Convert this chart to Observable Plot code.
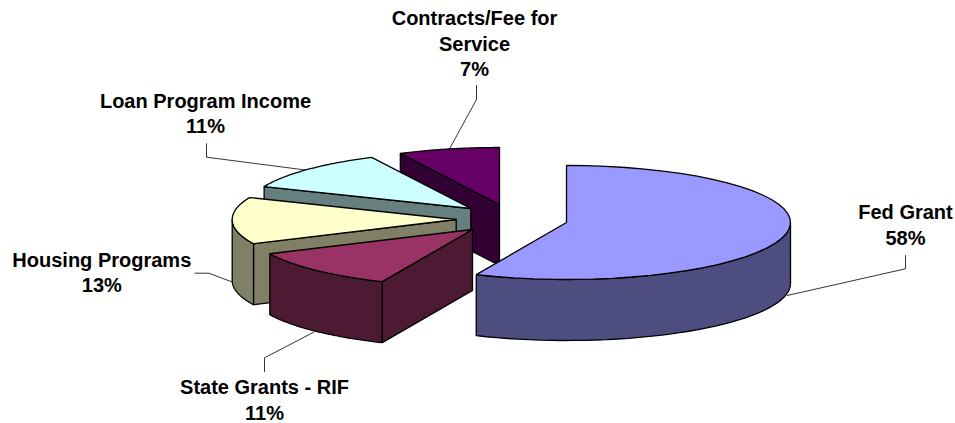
<!DOCTYPE html>
<html>
<head>
<meta charset="utf-8">
<style>html,body{margin:0;padding:0;background:#fff}svg{display:block}</style>
<script src="https://cdn.jsdelivr.net/npm/d3@7"></script>
<script src="https://cdn.jsdelivr.net/npm/@observablehq/plot@0.6"></script>
</head>
<body>
<div id="chart"></div>
<script>
// Data, clockwise from twelve o'clock
const categories = ["Fed Grant", "State Grants - RIF", "Housing Programs", "Loan Program Income", "Contracts/Fee for\nService"];
const percentLabels = ["58%", "11%", "13%", "11%", "7%"];
// Shares as drawn on the picture (perspective makes them differ a little from the printed labels)
const drawnShares = [56.6, 11.4, 13.3, 11.4, 7.3];
const topColors = ["#9999FF", "#993366", "#FFFFCC", "#CCFFFF", "#660066"];
const sideColors = ["#4D4D80", "#4D1A33", "#808066", "#668080", "#330033"];

// Layout of the exploded pie
const apexX = [566, 472, 455.7, 470.3, 499];
const apexY = [222, 229, 219, 208, 204];
const radiusX = 224, radiusY = 57, depth = 61;
const paintOrder = [4, 3, 2, 1, 0];

// Label layout
const labelX = [905, 264, 101.3, 205, 474];
const labelY = [212.3, 387.5, 260, 101, 18.3];
const lineStep = 25.3;
const leaders = [
  [[905, 255], [905, 268.3], [786.7, 295]],
  [[264, 371], [264, 357.3], [313.3, 331.7]],
  [[194.3, 272.7], [208.3, 272.7], [232.3, 281.7]],
  [[206, 143.3], [206, 156.7], [305, 169.5]],
  [[476, 85], [476, 99], [449, 148.4]]
];

const total = d3.sum(drawnShares);
const cum = d3.cumsum(drawnShares).map(v => v / total * 360);
const startA = cum.map((v, i) => i ? cum[i - 1] : 0);
const rad = d => d * Math.PI / 180;
const rim = (i, a, dy = 0) => ({x: apexX[i] + radiusX * Math.sin(rad(a)), y: apexY[i] - radiusY * Math.cos(rad(a)) + dy});
const arc = (i, a, b, dy = 0) => d3.range(0, 41).map(k => rim(i, a + (b - a) * k / 40, dy));

const polys = [];
let pid = 0;
const addPoly = (pts, fill) => { const id = pid++; [...pts, pts[0]].forEach(p => polys.push({...p, id, fill})); };
for (const i of paintOrder) {
  const a = startA[i], b = cum[i];
  // radial wall along the slice's start edge (faces the viewer for slices in the back/left half)
  if (a >= 180) {
    const r = rim(i, a), c = {x: apexX[i], y: apexY[i]};
    addPoly([r, c, {x: c.x, y: c.y + depth}, {x: r.x, y: r.y + depth}], sideColors[i]);
  }
  // outer curved wall: only the front half of the ellipse
  const lo = Math.max(a, 90), hi = Math.min(b, 270);
  if (hi > lo) addPoly([...arc(i, lo, hi), ...arc(i, hi, lo, depth)], sideColors[i]);
  // top face
  addPoly([{x: apexX[i], y: apexY[i]}, ...arc(i, a, b)], topColors[i]);
}

const leaderPts = leaders.flatMap((l, i) => l.map(([x, y]) => ({x, y, i})));
const textRows = categories.flatMap((c, i) => [...c.split("\n"), percentLabels[i]].map((t, k) => ({t, x: labelX[i], y: labelY[i] + k * lineStep})));

const svg = Plot.plot({
  width: 955, height: 423, margin: 0,
  x: {domain: [0, 955], range: [0, 955], axis: null},
  y: {domain: [0, 423], range: [0, 423], axis: null},
  style: {background: "#fff"},
  marks: [
    Plot.line(leaderPts, {x: "x", y: "y", z: "i", stroke: "#000", strokeWidth: 0.8, strokeLinejoin: "miter", curve: "linear"}),
    Plot.line(polys, {x: "x", y: "y", z: "id", fill: "fill", stroke: "#000", strokeWidth: 1.3, strokeLinejoin: "miter", curve: "linear"}),
    Plot.text(textRows, {x: "x", y: "y", text: "t", fontFamily: "Liberation Sans", fontWeight: "bold", fontSize: 20, fill: "#000", textAnchor: "middle", lineAnchor: "middle"})
  ]
});
document.getElementById("chart").appendChild(svg);
</script>
</body>
</html>
